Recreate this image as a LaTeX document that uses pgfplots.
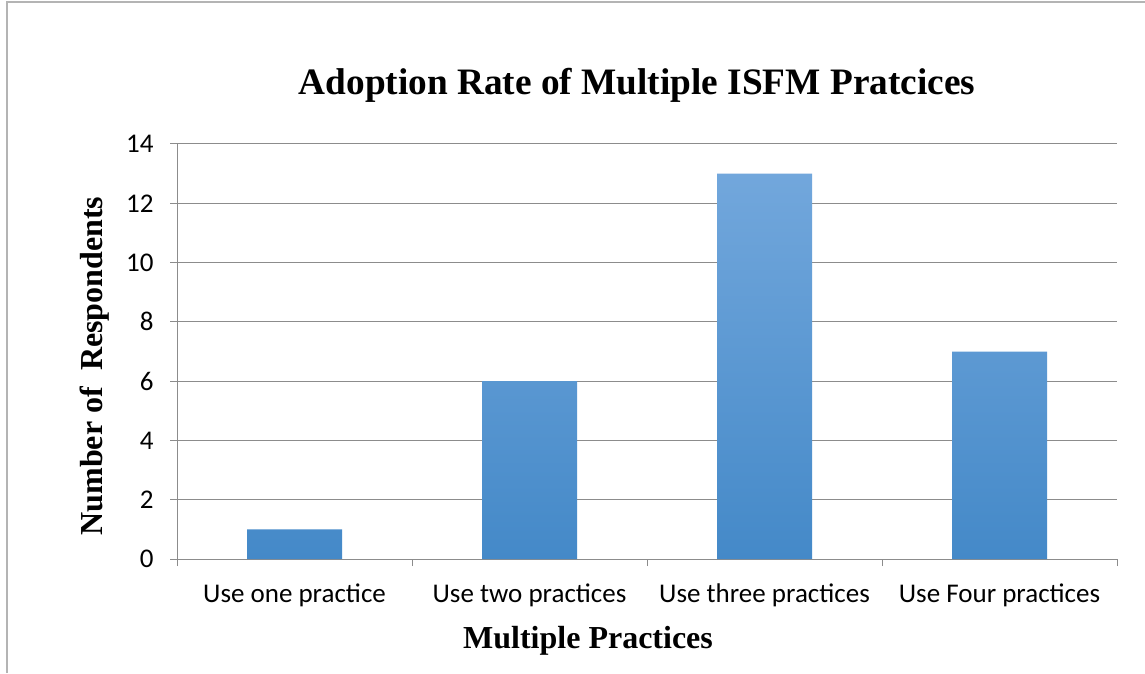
\documentclass[border=0pt]{standalone}
\usepackage{pgfplots}
\pgfplotsset{compat=1.18}
\usepackage{fontspec}
\setmainfont{Liberation Serif}
\newfontfamily\carlito{Carlito}
\definecolor{gridgray}{HTML}{8C8C8C}
\definecolor{bartop}{HTML}{72A7DC}
\definecolor{barbot}{HTML}{4489C8}
\definecolor{framegray}{HTML}{B4B4B4}
\begin{document}
\begin{tikzpicture}[x=1pt,y=1pt]
\useasboundingbox (0,0) rectangle (1145,673);
\fill[white] (0,0) rectangle (1145,673);
\draw[framegray,line width=1.5pt] (7,0) -- (7,671) -- (1145,671);
\begin{axis}[
  at={(177pt,114pt)}, anchor=south west,
  scale only axis, width=940pt, height=415pt,
  xmin=-0.5, xmax=3.5, ymin=0, ymax=14,
  ytick={0,2,...,14},
  xtick={0,1,2,3},
  xticklabels={Use one practice,Use two practices,Use three practices,Use Four practices},
  minor xtick={-0.5,0.5,1.5,2.5,3.5},
  major x tick style={draw=none},
  tick align=outside,
  major tick length=7pt, minor tick length=7pt,
  every tick/.style={gridgray, line width=1pt},
  axis x line*=bottom, axis y line*=left,
  axis line style={gridgray, line width=1pt},
  ymajorgrids, major grid style={gridgray, line width=1pt},
  ticklabel style={font=\carlito\fontsize{27}{30}\selectfont, text=black},
  /pgf/number format/assume math mode=true,
  xticklabel style={yshift=-14pt},
  yticklabel style={xshift=-13pt},
  ybar, bar width=95pt,
  clip=false,
]
\addplot[draw=none, top color=bartop, bottom color=barbot] coordinates {(0,1) (1,6) (2,13) (3,7)};
\end{axis}
\node[font=\bfseries\fontsize{37.3}{42}\selectfont] at (637,588) {Adoption Rate of Multiple ISFM Pratcices};
\node[font=\bfseries\fontsize{32}{36}\selectfont] at (588,32) {Multiple Practices};
\node[font=\bfseries\fontsize{32}{36}\selectfont, rotate=90] at (95,307) {Number of\ \ Respondents};
\end{tikzpicture}
\end{document}
